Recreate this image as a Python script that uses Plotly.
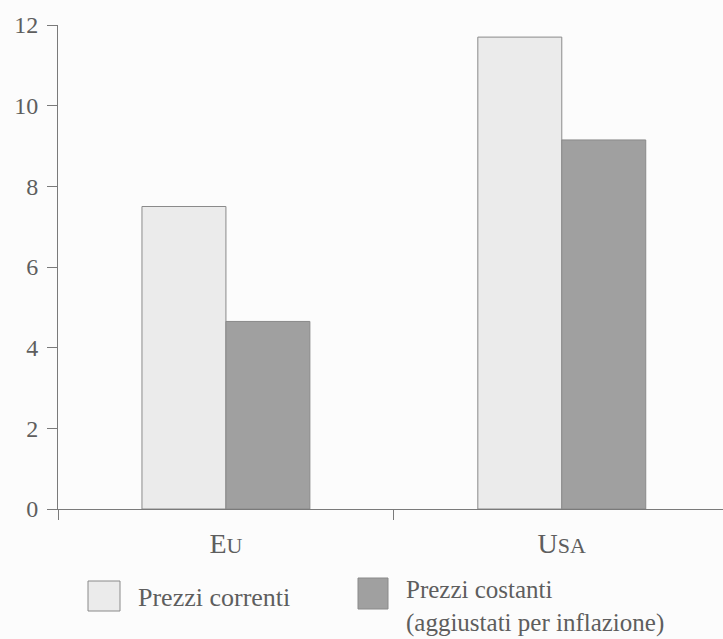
import plotly.graph_objects as go

categories = ["Eu", "Usa"]
cat_labels = ["E<span style='font-size:22px'>U</span>", "U<span style='font-size:22px'>SA</span>"]
series_names = ["Prezzi correnti", "Prezzi costanti<br>(aggiustati per inflazione)"]
prezzi_correnti = [7.5, 11.7]
prezzi_costanti = [4.65, 9.15]
y_ticks = [0, 2, 4, 6, 8, 10, 12]

W, H = 723, 639
ML, MR, MT, MB = 58, 0, 25, 130
PW, PH = W - ML - MR, H - MT - MB

def px(x):
    return (x - ML) / PW

def py(y):
    return (H - MB - y) / PH

FONT = "Liberation Serif"
TXT = "#5e5e5e"
AX = "#7a7a7a"
LIGHT = "#ebebeb"
DARK = "#a0a0a0"

fig = go.Figure()
fig.add_trace(go.Bar(x=categories, y=prezzi_correnti, name=series_names[0],
                     marker=dict(color=LIGHT, line=dict(color="#8a8a8a", width=1))))
fig.add_trace(go.Bar(x=categories, y=prezzi_costanti, name=series_names[1],
                     marker=dict(color=DARK, line=dict(color="#8a8a8a", width=1))))

shapes = [
    dict(type="rect", xref="paper", yref="paper", x0=px(88), x1=px(120), y0=py(611), y1=py(581),
         fillcolor=LIGHT, line=dict(color="#8a8a8a", width=1)),
    dict(type="rect", xref="paper", yref="paper", x0=px(358), x1=px(388), y0=py(609), y1=py(578),
         fillcolor=DARK, line=dict(color="#8a8a8a", width=1)),
]
annotations = [
    dict(text=series_names[0], xref="paper", yref="paper", x=px(136), y=py(597),
         xanchor="left", yanchor="middle", showarrow=False,
         font=dict(family=FONT, size=26, color=TXT)),
    dict(text=series_names[1], xref="paper", yref="paper", x=px(404), y=py(574),
         xanchor="left", yanchor="top", align="left", showarrow=False,
         font=dict(family=FONT, size=25, color=TXT)),
]

fig.update_layout(
    width=W, height=H,
    margin=dict(l=ML, r=MR, t=MT, b=MB, pad=0),
    paper_bgcolor="#fcfcfc", plot_bgcolor="#fcfcfc",
    barmode="group", bargap=0.5, bargroupgap=0,
    showlegend=False,
    shapes=shapes, annotations=annotations,
    font=dict(family=FONT, color=TXT),
)
fig.update_xaxes(
    type="category", range=[-0.5, 1.48],
    tickmode="array", tickvals=categories, ticktext=cat_labels,
    tickson="boundaries", ticks="outside", ticklen=10, tickcolor=AX, tickwidth=1,
    showline=True, linecolor=AX, linewidth=1, showgrid=False,
    tickfont=dict(family=FONT, size=28, color=TXT), ticklabelstandoff=9,
)
fig.update_yaxes(
    range=[0, 12], tickmode="array", tickvals=y_ticks,
    ticks="outside", ticklen=10, tickcolor=AX, tickwidth=1,
    showline=True, linecolor=AX, linewidth=1, showgrid=False, zeroline=False,
    tickfont=dict(family=FONT, size=24, color=TXT), ticklabelstandoff=4,
)

fig.write_html("out.html")
